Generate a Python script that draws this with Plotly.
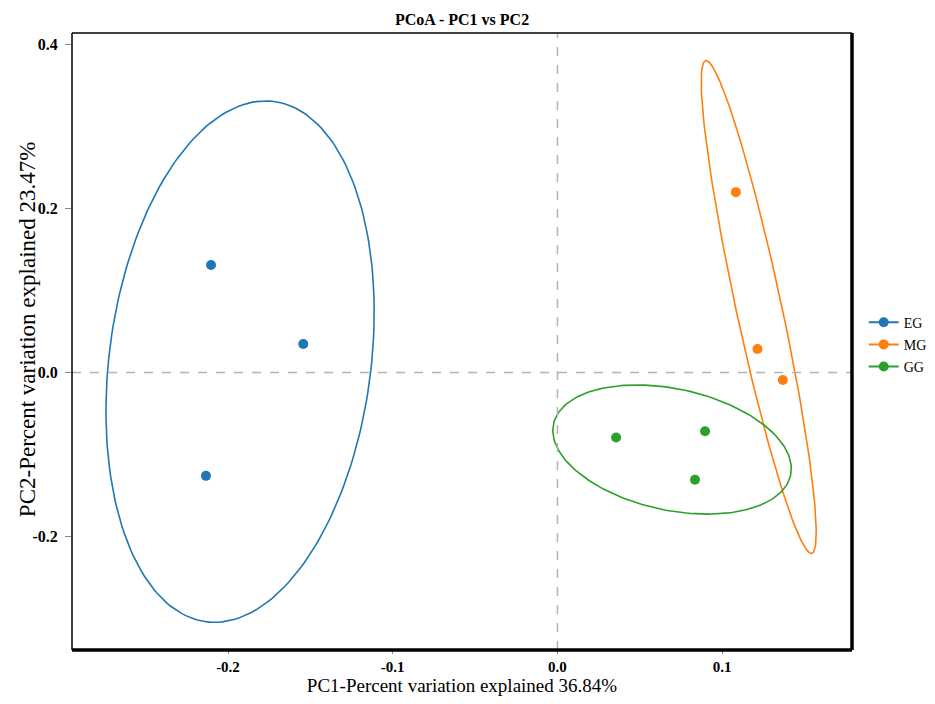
"""PCoA - PC1 vs PC2 散点 + 95% 置信椭圆"""
import numpy as np
import plotly.graph_objects as go

# ============================================================
# 数据
# ============================================================
GROUPS = ["EG", "MG", "GG"]
COLORS = ["#1f77b4", "#ff7f0e", "#2ca02c"]

EG_PC1 = [-0.2103, -0.1543, -0.2134]
EG_PC2 = [0.1310, 0.0349, -0.1257]
MG_PC1 = [0.1083, 0.1214, 0.1368]
MG_PC2 = [0.2198, 0.0288, -0.0089]
GG_PC1 = [0.0356, 0.0896, 0.0835]
GG_PC2 = [-0.0791, -0.0714, -0.1305]

X_TICKS = [-0.2, -0.1, 0.0, 0.1]
Y_TICKS = [-0.2, 0.0, 0.2, 0.4]

SERIF = "Liberation Serif, Times New Roman, serif"


def conf_ellipse(x, y, chi2=5.991, n=200):
    """样本协方差 + 卡方 95% 椭圆"""
    pts = np.column_stack([x, y])
    mu = pts.mean(axis=0)
    cov = np.cov(pts, rowvar=False)
    vals, vecs = np.linalg.eigh(cov)
    t = np.linspace(0, 2 * np.pi, n)
    circ = np.vstack([np.cos(t), np.sin(t)])
    ell = vecs @ (np.sqrt(vals * chi2)[:, None] * circ)
    return ell[0] + mu[0], ell[1] + mu[1]


fig = go.Figure()

data = [(EG_PC1, EG_PC2), (MG_PC1, MG_PC2), (GG_PC1, GG_PC2)]
for name, col, (px, py) in zip(GROUPS, COLORS, data):
    ex, ey = conf_ellipse(px, py)
    fig.add_trace(go.Scatter(x=ex, y=ey, mode="lines",
        line=dict(color=col, width=1.6), showlegend=False, hoverinfo="skip"))
    fig.add_trace(go.Scatter(x=px, y=py, mode="markers",
        marker=dict(size=10, color=col), name=name, showlegend=False))
    # 图例：线 + 点
    fig.add_trace(go.Scatter(x=[None], y=[None], mode="lines+markers",
        marker=dict(size=10, color=col), line=dict(color=col, width=2),
        name=name, legendgroup=name))

# 零线
fig.add_hline(y=0, line=dict(color="#b4b4b4", width=1.5, dash="dash"))
fig.add_vline(x=0, line=dict(color="#b4b4b4", width=1.5, dash="dash"))

# 边框：上/左细，下/右粗
for x0, y0, x1, y1, w in [(0, 1, 1, 1, 1.5), (0, 0, 0, 1, 1.5),
                          (0, 0, 1, 0, 3.5), (1, 0, 1, 1, 3.5)]:
    fig.add_shape(type="line", xref="paper", yref="paper",
        x0=x0, y0=y0, x1=x1, y1=y1, line=dict(color="black", width=w))

fig.update_xaxes(range=[-0.2947, 0.1788], tickvals=X_TICKS,
    ticktext=[f"{v:.1f}" for v in X_TICKS],
    ticks="outside", ticklen=3, tickcolor="#888", tickwidth=1,
    showgrid=False, zeroline=False, showline=False, automargin=False,
    tickfont=dict(family=SERIF, size=15, color="black", weight="bold"),
    title=dict(text="PC1-Percent variation explained 36.84%",
               font=dict(family=SERIF, size=19, color="black"), standoff=9))
fig.update_yaxes(range=[-0.3378, 0.4136], tickvals=Y_TICKS,
    ticktext=[f"{v:.1f}" for v in Y_TICKS],
    ticks="outside", ticklen=6, tickcolor="#888", tickwidth=1,
    ticklabelstandoff=4,
    showgrid=False, zeroline=False, showline=False, automargin=False,
    tickfont=dict(family=SERIF, size=16, color="black", weight="bold"))

# y 轴标题用注释，位置更好控制
fig.add_annotation(text="PC2-Percent variation explained 23.47%",
    xref="paper", yref="paper", x=0, y=0.52, xanchor="center", yanchor="middle",
    xshift=-45, textangle=-90, showarrow=False,
    font=dict(family=SERIF, size=23, color="black"))

# 页面默认 body 边距 8px，图尺寸按 935x704 窗口减去边距
fig.update_layout(
    title=dict(text="<b>PCoA - PC1 vs PC2</b>", x=0.4941, xanchor="center",
               y=0.984, yanchor="middle",
               font=dict(family=SERIF, size=16, color="black")),
    width=919, height=688,
    margin=dict(l=64, r=75, t=25, b=46, autoexpand=False),
    paper_bgcolor="white", plot_bgcolor="white",
    legend=dict(x=1.015, y=0.495, xanchor="left", yanchor="middle",
                font=dict(family=SERIF, size=14, color="black"),
                tracegroupgap=1, itemwidth=30, bgcolor="rgba(0,0,0,0)"),
)

fig.write_html("out.html")
